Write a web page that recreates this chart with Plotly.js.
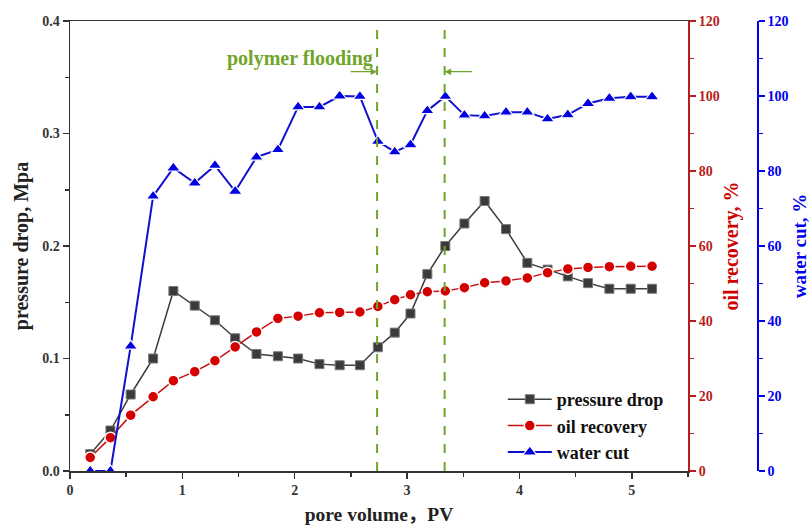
<!DOCTYPE html>
<html>
<head>
<meta charset="utf-8">
<script src="https://cdn.plot.ly/plotly-3.0.1.min.js"></script>
<style>body{margin:0;background:#fff}#chart{width:812px;height:528px}</style>
</head>
<body>
<div id="chart"></div>
<script>
const poreVolume = [0.18,0.36,0.54,0.74,0.92,1.11,1.29,1.47,1.66,1.85,2.03,2.22,2.40,2.58,2.74,2.89,3.03,3.18,3.34,3.51,3.69,3.88,4.07,4.25,4.43,4.61,4.80,4.99,5.18];
const pressureDrop = [0.015,0.036,0.068,0.100,0.160,0.147,0.134,0.118,0.104,0.102,0.100,0.095,0.094,0.094,0.110,0.123,0.140,0.175,0.200,0.220,0.240,0.215,0.185,0.179,0.173,0.167,0.162,0.162,0.162];
const oilRecovery = [3.6,8.9,14.9,19.8,24.1,26.5,29.4,33.1,37.1,40.7,41.3,42.2,42.3,42.4,43.9,45.7,47.0,47.8,48.0,48.9,50.2,50.7,51.5,52.9,53.9,54.3,54.5,54.6,54.6];
const waterCut = [0,0,33.3,73.3,80.8,76.8,81.5,74.6,83.7,85.7,97.1,97.1,100,99.9,87.9,85.1,87.0,96.1,99.9,94.9,94.7,95.7,95.7,93.9,95.0,98.0,99.4,99.8,99.8];
const seriesNames = ["pressure drop","oil recovery","water cut"];
const polymerStart = 2.733, polymerEnd = 3.334;

const F = "Liberation Serif, Noto Sans CJK SC, serif";
const green = "#6fa52a";
const redAx = "#b81c1c", blueAx = "#0000ee";

const traces = [
  {x: poreVolume, y: pressureDrop, name: seriesNames[0], type: "scatter", mode: "lines+markers",
   line: {color: "#3c3c3c", width: 1.5},
   marker: {symbol: "square", size: 9, color: "#3a3a3a", line: {color: "#777", width: 1}}, yaxis: "y"},
  {x: poreVolume, y: oilRecovery, name: seriesNames[1], type: "scatter", mode: "lines+markers",
   line: {color: "#c81010", width: 1.5},
   marker: {symbol: "circle", size: 11, color: "#d40000", line: {color: "#fff", width: 1.5}}, yaxis: "y2"},
  {x: poreVolume, y: waterCut, name: seriesNames[2], type: "scatter", mode: "lines+markers",
   line: {color: "#1010d0", width: 2},
   marker: {symbol: "triangle-up", size: 12, color: "#0000e0", line: {color: "#fff", width: 1.2}}, yaxis: "y3"}
];

const tickFont = {family: F, size: 14, weight: "bold", color: "#333"};
const layout = {
  width: 812, height: 528,
  margin: {l: 70, r: 55, t: 21, b: 57},
  paper_bgcolor: "#fff", plot_bgcolor: "#fff",
  showlegend: true,
  legend: {x: 0.63, y: 0.2, xanchor: "left", yanchor: "top", bgcolor: "rgba(0,0,0,0)",
           font: {family: F, size: 18, weight: "bold", color: "#111"}, tracegroupgap: 0, itemwidth: 44},
  xaxis: {domain: [0, 0.8996], range: [0, 5.5], dtick: 1, tick0: 0,
          showline: true, linecolor: "#333", linewidth: 1.5, mirror: true,
          ticks: "outside", ticklen: 6, tickwidth: 1.5, tickcolor: "#333",
          minor: {dtick: 0.5, ticks: "outside", ticklen: 4, tickwidth: 1.5, tickcolor: "#333"},
          showgrid: false, zeroline: false, tickfont: tickFont,
          title: {text: "pore volume，PV", font: {family: F, size: 19.5, weight: "bold", color: "#222"}, standoff: 10}},
  yaxis: {range: [0, 0.4], dtick: 0.1, tickformat: ".1f",
          showline: true, linecolor: "#333", linewidth: 1.5,
          ticks: "outside", ticklen: 6, tickwidth: 1.5, tickcolor: "#333",
          minor: {dtick: 0.05, ticks: "outside", ticklen: 4, tickwidth: 1.5, tickcolor: "#333"},
          showgrid: false, zeroline: false, tickfont: tickFont,
          title: {text: "pressure drop, Mpa", font: {family: F, size: 20, weight: "bold", color: "#222"}, standoff: 8}},
  yaxis2: {range: [0, 120], dtick: 20, overlaying: "y", side: "right", anchor: "x",
           showline: true, linecolor: redAx, linewidth: 1.8,
           ticks: "outside", ticklen: 6, tickwidth: 1.5, tickcolor: redAx,
           minor: {dtick: 10, ticks: "outside", ticklen: 4, tickwidth: 1.5, tickcolor: redAx},
           showgrid: false, zeroline: false, tickfont: {family: F, size: 14, weight: "bold", color: redAx},
           title: {text: "oil recovery, %", font: {family: F, size: 20, weight: "bold", color: "#d00000"}, standoff: 5}},
  yaxis3: {range: [0, 120], dtick: 20, overlaying: "y", side: "right", anchor: "free", position: 1,
           showline: true, linecolor: blueAx, linewidth: 1.8,
           ticks: "outside", ticklen: 6, tickwidth: 1.5, tickcolor: blueAx,
           minor: {dtick: 10, ticks: "outside", ticklen: 4, tickwidth: 1.5, tickcolor: blueAx},
           showgrid: false, zeroline: false, tickfont: {family: F, size: 14, weight: "bold", color: blueAx},
           title: {text: "water cut, %", font: {family: F, size: 19, weight: "bold", color: blueAx}, standoff: 5}},
  shapes: [
    {type: "line", xref: "x", yref: "paper", x0: polymerStart, x1: polymerStart, y0: 0, y1: 1,
     line: {color: green, width: 2, dash: "dash"}},
    {type: "line", xref: "x", yref: "paper", x0: polymerEnd, x1: polymerEnd, y0: 0, y1: 1,
     line: {color: green, width: 2, dash: "dash"}}
  ],
  annotations: [
    {x: 2.05, y: 0.367, xref: "x", yref: "y", text: "polymer flooding", showarrow: false,
     font: {family: F, size: 20, weight: "bold", color: green}},
    {x: polymerStart, y: 0.355, xref: "x", yref: "y", text: "", showarrow: true, ax: -28, ay: 0,
     arrowhead: 2, arrowsize: 1, arrowwidth: 1.3, arrowcolor: green},
    {x: polymerEnd, y: 0.355, xref: "x", yref: "y", text: "", showarrow: true, ax: 29, ay: 0,
     arrowhead: 2, arrowsize: 1, arrowwidth: 1.3, arrowcolor: green}
  ]
};

Plotly.newPlot("chart", traces, layout, {displayModeBar: false, staticPlot: true});
</script>
</body>
</html>
